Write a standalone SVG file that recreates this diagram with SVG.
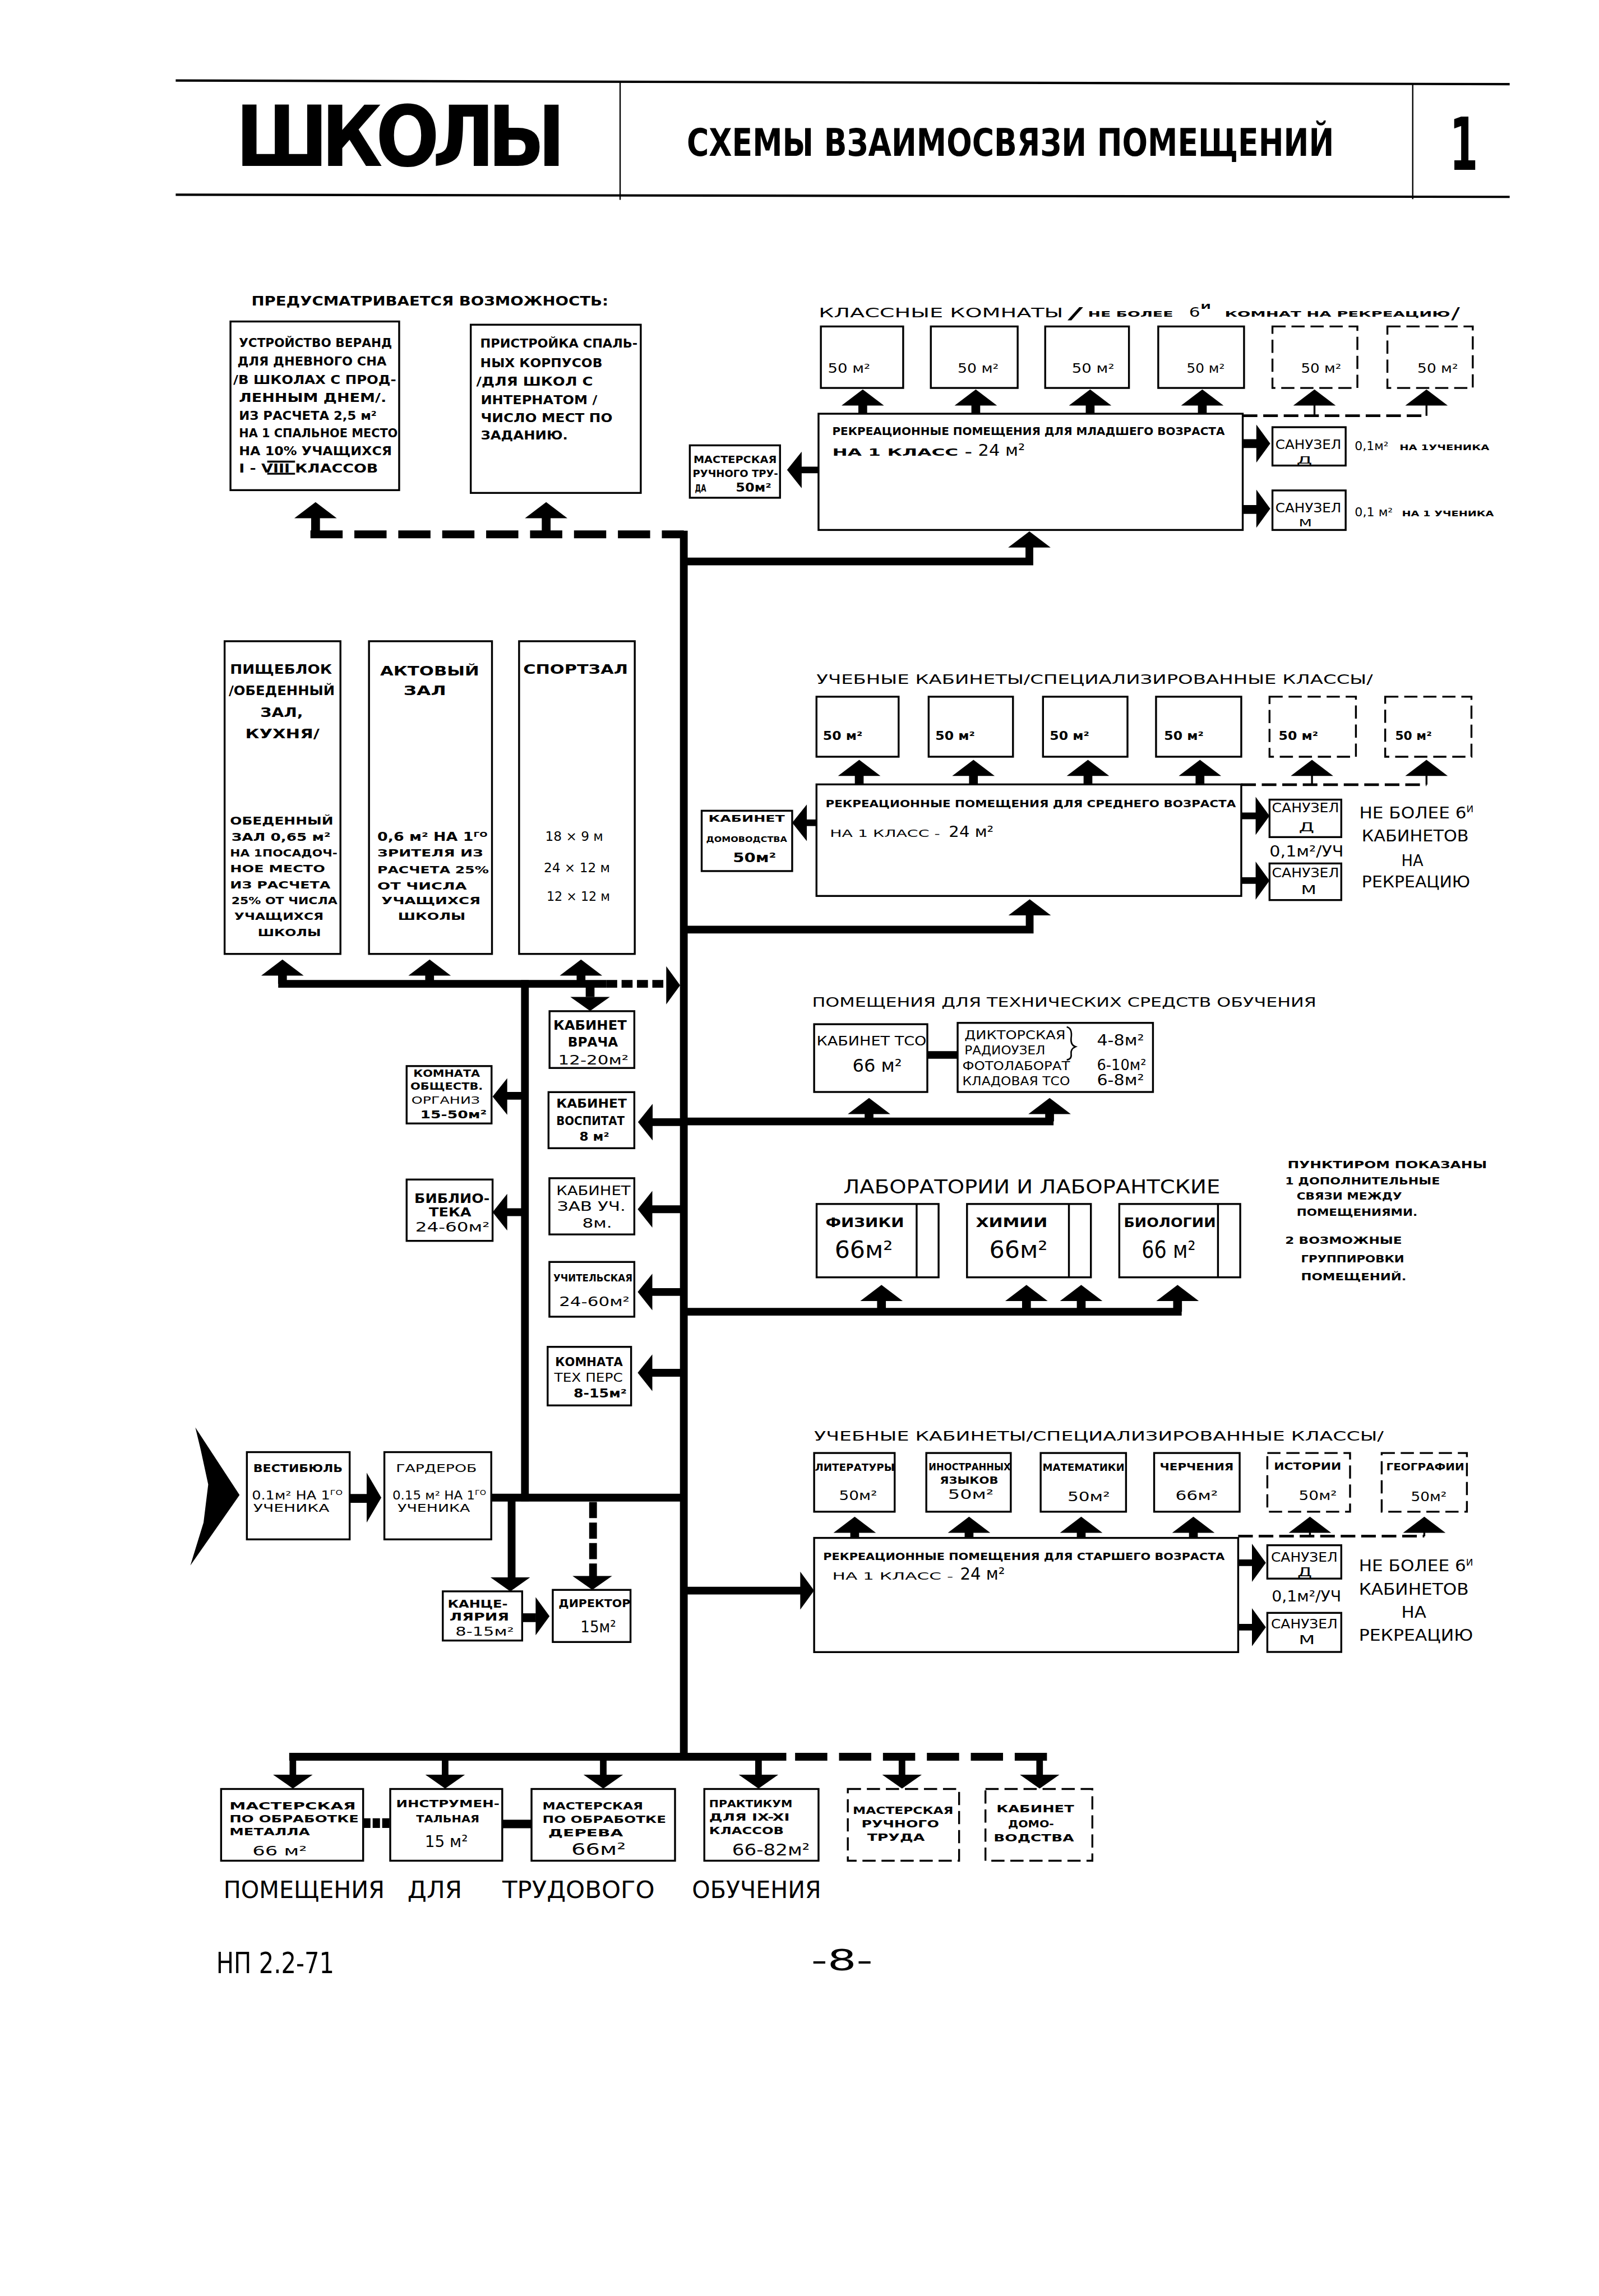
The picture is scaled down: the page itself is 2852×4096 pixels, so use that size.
<svg xmlns="http://www.w3.org/2000/svg" width="2852" height="4096" viewBox="0 0 2852 4096">
<defs>
<style>
.bx{fill:#fff;stroke:#000;stroke-width:1.3}
.bd{fill:#fff;stroke:#000;stroke-width:1.3;stroke-dasharray:9 4}
.ln{fill:none;stroke:#000;stroke-width:5.3}
.st{fill:none;stroke:#000;stroke-width:6}
.sm{fill:none;stroke:#000;stroke-width:4.5}
.th{fill:none;stroke:#000;stroke-width:1.3}
.dl{fill:none;stroke:#000;stroke-width:1.8;stroke-dasharray:10 4}
.hl{fill:none;stroke:#000;stroke-width:1.6}
text{font-family:"DejaVu Sans Condensed","DejaVu Sans","Liberation Sans",sans-serif;font-weight:bold;fill:#000}
.r{font-weight:normal}
</style>
<path id="au" d="M0,0L14.5,11L-14.5,11Z"/>
<path id="ad" d="M0,0L13.5,-9.5L-13.5,-9.5Z"/>
<path id="al" d="M0,0L10,-12.5L10,12.5Z"/>
<path id="ar" d="M0,0L-9.5,-13L-9.5,13Z"/>
<path id="ar2" d="M0,0L-10,-17L-10,17Z"/>
</defs>
<rect width="2852" height="4096" fill="#fff"/>
<g transform="scale(2.6117)">

<g id="header">
<path class="hl" d="M120,55L1031,57.5M120,133L1031,134.5"/>
<path d="M423.5,56V136.5M964.8,57V136" stroke="#000" stroke-width="0.9" fill="none"/>
<text x="160.8" y="113.5" font-size="57" textLength="225.4" lengthAdjust="spacing">ШКОЛЫ</text>
<text x="469" y="106.3" font-size="26" textLength="442" lengthAdjust="spacingAndGlyphs">СХЕМЫ ВЗАИМОСВЯЗИ ПОМЕЩЕНИЙ</text>
<text x="990" y="116" font-size="50" textLength="19.4" lengthAdjust="spacingAndGlyphs">1</text>
</g>

<g id="connectors">
<path class="st" d="M215.5,353V365M373,353V365"/>
<use href="#au" x="215.5" y="343"/><use href="#au" x="373" y="343"/>
<path class="ln" d="M212,365H467" stroke-dasharray="22 8"/>
<path class="ln" d="M467,362.5V1202.5"/>

<path class="st" d="M589.2,276V283M666.4,276V283M744.5,276V283M821.1,276V283"/>
<path class="th" d="M897.7,276V284M974.2,276V284"/>
<path class="dl" d="M848.7,284H974.2"/>
<use href="#au" x="589.2" y="266"/><use href="#au" x="666.4" y="266"/><use href="#au" x="744.5" y="266"/><use href="#au" x="821.1" y="266"/><use href="#au" x="897.7" y="266"/><use href="#au" x="974.2" y="266"/>
<path class="st" d="M848.7,303H859M848.7,348H859"/>
<use href="#ar" x="867.5" y="303"/><use href="#ar" x="867.5" y="347.5"/>
<path class="sm" d="M559,321H546"/><use href="#al" x="537.5" y="321"/>
<path class="ln" d="M703,372V383.5H464.5"/><use href="#au" x="703" y="363"/>

<path class="st" d="M586.8,529V536M664.8,529V536M743,529V536M819.5,529V536"/>
<path class="th" d="M896,529V536M974.2,529V536"/>
<path class="dl" d="M847.7,536H974.2"/>
<use href="#au" x="586.8" y="519"/><use href="#au" x="664.8" y="519"/><use href="#au" x="743" y="519"/><use href="#au" x="819.5" y="519"/><use href="#au" x="896" y="519"/><use href="#au" x="974.2" y="519"/>
<path class="sm" d="M847.7,557.3H858M847.7,601.5H858"/>
<use href="#ar" x="867" y="557.3"/><use href="#ar" x="867" y="601.5"/>
<path class="sm" d="M557.6,562H547"/><use href="#al" x="541" y="562"/>
<path class="ln" d="M703.2,623V635H464.5"/><use href="#au" x="703.2" y="614.3"/>

<path class="st" d="M192.9,665V672M293.4,665V672M396.8,665V672"/>
<use href="#au" x="192.9" y="655.4"/><use href="#au" x="293.4" y="655.4"/><use href="#au" x="396.8" y="655.4"/>
<path class="ln" d="M190,672H414"/>
<path class="ln" d="M414,672H456" stroke-dasharray="7.5 3"/>
<use href="#ar" x="464.5" y="673"/>
<path class="ln" d="M358.5,669.5V1025.5"/>
<path class="st" d="M403,672V681"/><use href="#ad" x="403" y="690.5"/>

<path class="ln" d="M358.5,748.5H345M358.5,828H346"/>
<use href="#al" x="336.4" y="749"/><use href="#al" x="336.4" y="828"/>
<path class="ln" d="M467,766.5H445M467,826H445M467,882.5H445M467,937.7H445"/>
<use href="#al" x="435.7" y="766.5"/><use href="#al" x="435.5" y="826"/><use href="#al" x="435.5" y="882.5"/><use href="#al" x="435.5" y="937.7"/>

<path class="ln" d="M467,766H719.5"/>
<path class="st" d="M593.5,759V766M716.8,759V766"/>
<use href="#au" x="593.5" y="750"/><use href="#au" x="716.8" y="750"/>
<rect x="633.3" y="718" width="20.7" height="5.2" fill="#000"/>

<path class="ln" d="M467,896H807"/>
<path class="st" d="M602,887V896M701,887V896M738.4,887V896M804.2,887V896"/>
<use href="#au" x="602" y="877.7"/><use href="#au" x="701" y="877.7"/><use href="#au" x="738.4" y="877.7"/><use href="#au" x="804.2" y="877.7"/>

<path class="st" d="M583.7,1045V1050.5M661.8,1045V1050.5M738.4,1045V1050.5M815,1045V1050.5"/>
<path class="th" d="M894.6,1045V1049.3M972.7,1045V1049.3"/>
<path class="dl" d="M845.6,1049.3H972.7"/>
<use href="#au" x="583.7" y="1036"/><use href="#au" x="661.8" y="1036"/><use href="#au" x="738.4" y="1036"/><use href="#au" x="815" y="1036"/><use href="#au" x="894.6" y="1036"/><use href="#au" x="972.7" y="1036"/>
<path class="sm" d="M845.6,1067.5H855M845.6,1111.5H855"/>
<use href="#ar" x="864.5" y="1067.5"/><use href="#ar" x="864.5" y="1111.5"/>
<path class="ln" d="M467,1086.5H547"/><use href="#ar" x="556" y="1086.5"/>

<polygon points="133.4,975 163.6,1021.2 130,1069.3 139,1040 142.2,1014 137,990" fill="#000"/>
<path class="st" d="M238.8,1023.5H251"/><use href="#ar2" x="260.4" y="1023"/>
<path class="ln" d="M335.5,1023H467"/>
<path class="ln" d="M349.4,1023V1078"/><use href="#ad" x="348.5" y="1087"/>
<path class="ln" d="M405,1026V1077" stroke-dasharray="11 3"/><use href="#ad" x="404.5" y="1086"/>
<path class="st" d="M356.6,1105H366"/><use href="#ar" x="375.3" y="1104"/>

<path class="ln" d="M197.5,1200H537"/>
<path class="ln" d="M543,1200H715" stroke-dasharray="22 8"/>
<path class="sm" d="M200,1200V1213M304,1200V1213M412,1200V1213M518,1200V1213M616,1200V1213M710,1200V1213"/>
<use href="#ad" x="200" y="1221.7"/><use href="#ad" x="304" y="1221.7"/><use href="#ad" x="412" y="1221.7"/><use href="#ad" x="518" y="1221.7"/><use href="#ad" x="616" y="1221.7"/><use href="#ad" x="710" y="1221.7"/>
<path d="M248,1245.3H266.5" stroke="#000" stroke-width="6.6" stroke-dasharray="5 1.5" fill="none"/>
<rect x="343" y="1243" width="20" height="5.8" fill="#000"/>
</g>

<text x="171.7" y="208.6" font-size="8.5" textLength="243.8" lengthAdjust="spacingAndGlyphs">ПРЕДУСМАТРИВАЕТСЯ ВОЗМОЖНОСТЬ:</text>

<g id="veranda">
<rect class="bx" x="157.4" y="219.6" width="115.2" height="115.2"/>
<text x="163.2" y="237" font-size="8.2" textLength="104.5" lengthAdjust="spacingAndGlyphs">УСТРОЙСТВО ВЕРАНД</text>
<text x="162.2" y="249.7" font-size="8.2" textLength="101.7" lengthAdjust="spacingAndGlyphs">ДЛЯ ДНЕВНОГО СНА</text>
<text x="159.3" y="262.1" font-size="8.2" textLength="111.3" lengthAdjust="spacingAndGlyphs">/В ШКОЛАХ С ПРОД-</text>
<text x="163.2" y="274.5" font-size="8.2" textLength="100.7" lengthAdjust="spacingAndGlyphs">ЛЕННЫМ ДНЕМ/.</text>
<text x="163.2" y="286.6" font-size="8.2" textLength="94" lengthAdjust="spacingAndGlyphs">ИЗ РАСЧЕТА 2,5 м²</text>
<text x="163.2" y="298.8" font-size="8.2" textLength="108.4" lengthAdjust="spacingAndGlyphs">НА 1 СПАЛЬНОЕ МЕСТО</text>
<text x="163.2" y="310.9" font-size="8.2" textLength="104.5" lengthAdjust="spacingAndGlyphs">НА 10% УЧАЩИХСЯ</text>
<text x="163.2" y="322.6" font-size="8.2" textLength="95" lengthAdjust="spacingAndGlyphs">I - VIII КЛАССОВ</text>
<path class="th" d="M182.5,315.3H201.5M182.5,323.6H201.5" stroke-width="0.8"/>
</g>

<g id="internat">
<rect class="bx" x="321.5" y="221.8" width="116.1" height="114.9"/>
<text x="328" y="237.5" font-size="8.2" textLength="107.4" lengthAdjust="spacingAndGlyphs">ПРИСТРОЙКА СПАЛЬ-</text>
<text x="328" y="250.7" font-size="8.2" textLength="83.4" lengthAdjust="spacingAndGlyphs">НЫХ КОРПУСОВ</text>
<text x="325.3" y="263.3" font-size="8.2" textLength="79.6" lengthAdjust="spacingAndGlyphs">/ДЛЯ ШКОЛ С</text>
<text x="328.3" y="276" font-size="8.2" textLength="79.6" lengthAdjust="spacingAndGlyphs">ИНТЕРНАТОМ /</text>
<text x="328.3" y="288.2" font-size="8.2" textLength="90" lengthAdjust="spacingAndGlyphs">ЧИСЛО МЕСТ ПО</text>
<text x="328.3" y="300.3" font-size="8.2" textLength="59.5" lengthAdjust="spacingAndGlyphs">ЗАДАНИЮ.</text>
</g>

<g id="classrooms">
<text class="r" x="559.1" y="216.8" font-size="8.8" textLength="167" lengthAdjust="spacingAndGlyphs">КЛАССНЫЕ КОМНАТЫ</text>
<text class="r" x="729" y="218" font-size="11" textLength="10.7" lengthAdjust="spacingAndGlyphs">/</text>
<text x="743" y="216.5" font-size="5.2" textLength="58.2" lengthAdjust="spacingAndGlyphs">НЕ БОЛЕЕ</text>
<text class="r" x="812" y="216.5" font-size="9" textLength="7.6" lengthAdjust="spacingAndGlyphs">6</text>
<text x="820" y="211" font-size="5" textLength="7" lengthAdjust="spacingAndGlyphs">И</text>
<text x="836.4" y="216.5" font-size="5.2" textLength="154" lengthAdjust="spacingAndGlyphs">КОМНАТ НА  РЕКРЕАЦИЮ</text>
<text class="r" x="991" y="218" font-size="11" textLength="6" lengthAdjust="spacingAndGlyphs">/</text>
<rect class="bx" x="560.6" y="223" width="56.2" height="42"/>
<rect class="bx" x="635.7" y="223" width="59.3" height="42"/>
<rect class="bx" x="713.8" y="223" width="57.2" height="42"/>
<rect class="bx" x="791" y="223" width="58.6" height="42"/>
<rect class="bd" x="869" y="223" width="58" height="42"/>
<rect class="bd" x="947.5" y="223" width="58.3" height="42"/>
<text class="r" x="565.3" y="254.5" font-size="8.5" textLength="29" lengthAdjust="spacingAndGlyphs">50 м²</text>
<text class="r" x="654" y="254.5" font-size="8.5" textLength="28" lengthAdjust="spacingAndGlyphs">50 м²</text>
<text class="r" x="732" y="254.5" font-size="8.5" textLength="29" lengthAdjust="spacingAndGlyphs">50 м²</text>
<text class="r" x="810.4" y="254.5" font-size="8.5" textLength="26" lengthAdjust="spacingAndGlyphs">50 м²</text>
<text class="r" x="888.5" y="254.5" font-size="8.5" textLength="27.5" lengthAdjust="spacingAndGlyphs">50 м²</text>
<text class="r" x="968" y="254.5" font-size="8.5" textLength="27.7" lengthAdjust="spacingAndGlyphs">50 м²</text>
</g>

<g id="rec-junior">
<rect class="bx" x="559" y="282.6" width="289.7" height="79.4"/>
<text x="568.4" y="297.2" font-size="7.5" textLength="268" lengthAdjust="spacingAndGlyphs">РЕКРЕАЦИОННЫЕ ПОМЕЩЕНИЯ ДЛЯ МЛАДШЕГО ВОЗРАСТА</text>
<text x="568.4" y="311.3" font-size="6.5" textLength="95.6" lengthAdjust="spacingAndGlyphs">НА 1 КЛАСС -</text>
<text class="r" x="668" y="311.3" font-size="11" textLength="32" lengthAdjust="spacingAndGlyphs">24 м²</text>
</g>
<g id="wc-d-1">
<rect class="bx" x="869" y="291.8" width="50" height="26.2"/>
<text class="r" x="871" y="306.7" font-size="9" textLength="45" lengthAdjust="spacingAndGlyphs">САНУЗЕЛ</text>
<text class="r" x="885.4" y="316.6" font-size="7" textLength="10.7" lengthAdjust="spacingAndGlyphs">Д</text>
<text class="r" x="925.2" y="307.3" font-size="8" textLength="23" lengthAdjust="spacingAndGlyphs">0,1м²</text>
<text x="955.8" y="307.3" font-size="5.3" textLength="61.3" lengthAdjust="spacingAndGlyphs">НА 1УЧЕНИКА</text>
</g>
<g id="wc-m-1">
<rect class="bx" x="869" y="335" width="50" height="27"/>
<text class="r" x="871" y="350" font-size="9" textLength="45" lengthAdjust="spacingAndGlyphs">САНУЗЕЛ</text>
<text class="r" x="887" y="359.6" font-size="7" textLength="9" lengthAdjust="spacingAndGlyphs">М</text>
<text class="r" x="925.2" y="352.8" font-size="8" textLength="26" lengthAdjust="spacingAndGlyphs">0,1 м²</text>
<text x="957.4" y="352.8" font-size="5.3" textLength="62.8" lengthAdjust="spacingAndGlyphs">НА 1 УЧЕНИКА</text>
</g>
<g id="workshop-hand">
<rect class="bx" x="471.1" y="304.2" width="61.6" height="35.8"/>
<text x="473.6" y="316.2" font-size="6.5" textLength="56.8" lengthAdjust="spacingAndGlyphs">МАСТЕРСКАЯ</text>
<text x="473.1" y="326" font-size="6.5" textLength="58.3" lengthAdjust="spacingAndGlyphs">РУЧНОГО ТРУ-</text>
<text x="474.6" y="335.7" font-size="6.5" textLength="7.7" lengthAdjust="spacingAndGlyphs">ДА</text>
<text x="502.5" y="335.7" font-size="8" textLength="24.3" lengthAdjust="spacingAndGlyphs">50м²</text>
</g>

<g id="cabinets-middle">
<text class="r" x="557.6" y="467.2" font-size="9" textLength="380" lengthAdjust="spacingAndGlyphs">УЧЕБНЫЕ КАБИНЕТЫ/СПЕЦИАЛИЗИРОВАННЫЕ КЛАССЫ/</text>
<rect class="bx" x="557.6" y="475.9" width="56.1" height="41"/>
<rect class="bx" x="634.2" y="475.9" width="57.6" height="41"/>
<rect class="bx" x="712.3" y="475.9" width="57.7" height="41"/>
<rect class="bx" x="789.5" y="475.9" width="58.2" height="41"/>
<rect class="bd" x="867" y="475.9" width="59" height="41"/>
<rect class="bd" x="946" y="475.9" width="58.9" height="41"/>
<text x="562" y="505.5" font-size="8" textLength="27" lengthAdjust="spacingAndGlyphs">50 м²</text>
<text x="638.8" y="505.5" font-size="8" textLength="27" lengthAdjust="spacingAndGlyphs">50 м²</text>
<text x="716.9" y="505.5" font-size="8" textLength="27" lengthAdjust="spacingAndGlyphs">50 м²</text>
<text x="795" y="505.5" font-size="8" textLength="27" lengthAdjust="spacingAndGlyphs">50 м²</text>
<text x="873.2" y="505.5" font-size="8" textLength="27" lengthAdjust="spacingAndGlyphs">50 м²</text>
<text x="952.8" y="505.5" font-size="8" textLength="25" lengthAdjust="spacingAndGlyphs">50 м²</text>
</g>
<g id="rec-middle">
<rect class="bx" x="557.6" y="535.8" width="290.1" height="76.2"/>
<text x="563.8" y="551.5" font-size="6.8" textLength="280.2" lengthAdjust="spacingAndGlyphs">РЕКРЕАЦИОННЫЕ ПОМЕЩЕНИЯ ДЛЯ СРЕДНЕГО ВОЗРАСТА</text>
<text class="r" x="566.8" y="571.8" font-size="6.8" textLength="75.2" lengthAdjust="spacingAndGlyphs">НА 1 КЛАСС -</text>
<text class="r" x="648" y="571.8" font-size="10" textLength="30.6" lengthAdjust="spacingAndGlyphs">24 м²</text>
</g>
<g id="wc-d-2">
<rect class="bx" x="867" y="546.2" width="49" height="25.6"/>
<text class="r" x="868.6" y="555" font-size="9" textLength="45.9" lengthAdjust="spacingAndGlyphs">САНУЗЕЛ</text>
<text class="r" x="887" y="567.7" font-size="8" textLength="10.6" lengthAdjust="spacingAndGlyphs">Д</text>
<text class="r" x="867" y="585.2" font-size="10" textLength="50.6" lengthAdjust="spacingAndGlyphs">0,1м²/УЧ</text>
</g>
<g id="wc-m-2">
<rect class="bx" x="867" y="589.8" width="49" height="25"/>
<text class="r" x="868.6" y="599.1" font-size="9" textLength="45.9" lengthAdjust="spacingAndGlyphs">САНУЗЕЛ</text>
<text class="r" x="888.5" y="610.8" font-size="8" textLength="10.5" lengthAdjust="spacingAndGlyphs">М</text>
</g>
<g id="note-middle">
<text class="r" x="928.3" y="559" font-size="11" textLength="78" lengthAdjust="spacingAndGlyphs">НЕ БОЛЕЕ 6<tspan dy="-4" font-size="6">И</tspan></text>
<text class="r" x="930" y="574.7" font-size="11" textLength="73" lengthAdjust="spacingAndGlyphs">КАБИНЕТОВ</text>
<text class="r" x="957" y="591.6" font-size="11" textLength="15" lengthAdjust="spacingAndGlyphs">НА</text>
<text class="r" x="930" y="606.1" font-size="11" textLength="74" lengthAdjust="spacingAndGlyphs">РЕКРЕАЦИЮ</text>
</g>
<g id="cab-domovodstva">
<rect class="bx" x="479.2" y="553.8" width="61.8" height="41.2"/>
<text x="483.8" y="561.5" font-size="6" textLength="52.2" lengthAdjust="spacingAndGlyphs">КАБИНЕТ</text>
<text x="482.3" y="575" font-size="5.5" textLength="55.2" lengthAdjust="spacingAndGlyphs">ДОМОВОДСТВА</text>
<text x="500.5" y="589" font-size="9" textLength="29.5" lengthAdjust="spacingAndGlyphs">50м²</text>
</g>

<g id="pishcheblok">
<rect class="bx" x="153.4" y="438" width="79.1" height="213.6"/>
<text x="157.1" y="460.3" font-size="9" textLength="69.6" lengthAdjust="spacingAndGlyphs">ПИЩЕБЛОК</text>
<text x="156.2" y="474.8" font-size="9" textLength="72.4" lengthAdjust="spacingAndGlyphs">/ОБЕДЕННЫЙ</text>
<text x="177.8" y="489.9" font-size="9" textLength="29.2" lengthAdjust="spacingAndGlyphs">ЗАЛ,</text>
<text x="167.5" y="504.2" font-size="9" textLength="50.7" lengthAdjust="spacingAndGlyphs">КУХНЯ/</text>
<text x="157.1" y="563.2" font-size="7.2" textLength="70.5" lengthAdjust="spacingAndGlyphs">ОБЕДЕННЫЙ</text>
<text x="158" y="574.5" font-size="7.5" textLength="67.7" lengthAdjust="spacingAndGlyphs">ЗАЛ 0,65 м²</text>
<text x="157.1" y="585.1" font-size="7" textLength="73.3" lengthAdjust="spacingAndGlyphs">НА 1ПОСАДОЧ-</text>
<text x="157.1" y="595.7" font-size="7" textLength="64.9" lengthAdjust="spacingAndGlyphs">НОЕ МЕСТО</text>
<text x="157.1" y="607" font-size="7" textLength="68.6" lengthAdjust="spacingAndGlyphs">ИЗ РАСЧЕТА</text>
<text x="158" y="617.6" font-size="7" textLength="72.4" lengthAdjust="spacingAndGlyphs">25% ОТ ЧИСЛА</text>
<text x="160" y="628.2" font-size="7" textLength="61" lengthAdjust="spacingAndGlyphs">УЧАЩИХСЯ</text>
<text x="176" y="639.5" font-size="7" textLength="43.2" lengthAdjust="spacingAndGlyphs">ШКОЛЫ</text>
</g>
<g id="aktovyi">
<rect class="bx" x="252" y="438" width="84" height="213.6"/>
<text x="259.6" y="461.2" font-size="9" textLength="67.7" lengthAdjust="spacingAndGlyphs">АКТОВЫЙ</text>
<text x="275.6" y="474.8" font-size="9" textLength="29.1" lengthAdjust="spacingAndGlyphs">ЗАЛ</text>
<text x="257.7" y="574.5" font-size="8" textLength="75.2" lengthAdjust="spacingAndGlyphs">0,6 м² НА 1<tspan dy="-3" font-size="5">ГО</tspan></text>
<text x="257.7" y="585.1" font-size="7" textLength="72.3" lengthAdjust="spacingAndGlyphs">ЗРИТЕЛЯ ИЗ</text>
<text x="257.7" y="596.4" font-size="7" textLength="76.1" lengthAdjust="spacingAndGlyphs">РАСЧЕТА 25%</text>
<text x="257.7" y="607.8" font-size="7" textLength="61.1" lengthAdjust="spacingAndGlyphs">ОТ ЧИСЛА</text>
<text x="260.5" y="617.6" font-size="7" textLength="67.7" lengthAdjust="spacingAndGlyphs">УЧАЩИХСЯ</text>
<text x="271.8" y="628.2" font-size="7" textLength="46.1" lengthAdjust="spacingAndGlyphs">ШКОЛЫ</text>
</g>
<g id="sportzal">
<rect class="bx" x="354.5" y="438" width="79" height="213.6"/>
<text x="357.3" y="460.3" font-size="9" textLength="71.5" lengthAdjust="spacingAndGlyphs">СПОРТЗАЛ</text>
<text class="r" x="372.4" y="574.5" font-size="8.5" textLength="39.5" lengthAdjust="spacingAndGlyphs">18 × 9 м</text>
<text class="r" x="371.4" y="595.7" font-size="8.5" textLength="45.2" lengthAdjust="spacingAndGlyphs">24 × 12 м</text>
<text class="r" x="373.3" y="615.3" font-size="8.5" textLength="43.3" lengthAdjust="spacingAndGlyphs">12 × 12 м</text>
</g>

<g id="obshchestv">
<rect class="bx" x="277.7" y="728.2" width="58" height="39.2"/>
<text x="282.3" y="735.6" font-size="6.8" textLength="45.5" lengthAdjust="spacingAndGlyphs">КОМНАТА</text>
<text x="280.3" y="744.4" font-size="6.8" textLength="49.5" lengthAdjust="spacingAndGlyphs">ОБЩЕСТВ.</text>
<text class="r" x="281" y="754" font-size="6.8" textLength="46.8" lengthAdjust="spacingAndGlyphs">ОРГАНИЗ</text>
<text x="287" y="763.8" font-size="7.5" textLength="45.4" lengthAdjust="spacingAndGlyphs">15-50м²</text>
</g>
<g id="biblioteka">
<rect class="bx" x="277.7" y="805.7" width="58.7" height="41.9"/>
<text x="283" y="821.8" font-size="9" textLength="51.4" lengthAdjust="spacingAndGlyphs">БИБЛИО-</text>
<text x="292.9" y="830.7" font-size="8" textLength="29" lengthAdjust="spacingAndGlyphs">ТЕКА</text>
<text class="r" x="283.6" y="841.4" font-size="9" textLength="50.8" lengthAdjust="spacingAndGlyphs">24-60м²</text>
</g>
<g id="vrach">
<rect class="bx" x="375.3" y="690.7" width="57.9" height="38.8"/>
<text x="377.9" y="703.2" font-size="8.5" textLength="50.1" lengthAdjust="spacingAndGlyphs">КАБИНЕТ</text>
<text x="387.8" y="714.8" font-size="8.5" textLength="34.2" lengthAdjust="spacingAndGlyphs">ВРАЧА</text>
<text class="r" x="381.2" y="727.2" font-size="9" textLength="48.1" lengthAdjust="spacingAndGlyphs">12-20м²</text>
</g>
<g id="vospitat">
<rect class="bx" x="374.6" y="746" width="58.6" height="38.3"/>
<text x="379.9" y="756.7" font-size="8" textLength="48.1" lengthAdjust="spacingAndGlyphs">КАБИНЕТ</text>
<text x="379.9" y="768.3" font-size="8" textLength="46.7" lengthAdjust="spacingAndGlyphs">ВОСПИТАТ</text>
<text x="395.7" y="779" font-size="8" textLength="20.4" lengthAdjust="spacingAndGlyphs">8 м²</text>
</g>
<g id="zavuch">
<rect class="bx" x="375.2" y="804.8" width="58" height="38.4"/>
<text class="r" x="379.9" y="816.4" font-size="8.5" textLength="50.7" lengthAdjust="spacingAndGlyphs">КАБИНЕТ</text>
<text class="r" x="380.5" y="827.1" font-size="8.5" textLength="46.8" lengthAdjust="spacingAndGlyphs">ЗАВ УЧ.</text>
<text class="r" x="397.6" y="838.7" font-size="8.5" textLength="20.4" lengthAdjust="spacingAndGlyphs">8м.</text>
</g>
<g id="uchitelskaya">
<rect class="bx" x="375.2" y="862" width="58" height="37.4"/>
<text x="377.9" y="875.2" font-size="6.5" textLength="54" lengthAdjust="spacingAndGlyphs">УЧИТЕЛЬСКАЯ</text>
<text class="r" x="381.8" y="892.2" font-size="9" textLength="48.2" lengthAdjust="spacingAndGlyphs">24-60м²</text>
</g>
<g id="tekhpers">
<rect class="bx" x="374" y="920" width="57" height="40"/>
<text x="379.2" y="933.2" font-size="8" textLength="46.1" lengthAdjust="spacingAndGlyphs">КОМНАТА</text>
<text class="r" x="378.5" y="943.9" font-size="8" textLength="46.8" lengthAdjust="spacingAndGlyphs">ТЕХ ПЕРС</text>
<text x="391.7" y="954.6" font-size="8" textLength="36.3" lengthAdjust="spacingAndGlyphs">8-15м²</text>
</g>

<g id="tso">
<text class="r" x="554.6" y="687.7" font-size="9" textLength="344.4" lengthAdjust="spacingAndGlyphs">ПОМЕЩЕНИЯ ДЛЯ ТЕХНИЧЕСКИХ СРЕДСТВ ОБУЧЕНИЯ</text>
<rect class="bx" x="556" y="699.6" width="77.3" height="46.3"/>
<text class="r" x="557.7" y="714.2" font-size="8.5" textLength="75" lengthAdjust="spacingAndGlyphs">КАБИНЕТ ТСО</text>
<text class="r" x="582.2" y="731.9" font-size="12" textLength="33.7" lengthAdjust="spacingAndGlyphs">66 м²</text>
</g>
<g id="tso-rooms">
<rect class="bx" x="654" y="698.7" width="133.4" height="47.2"/>
<text class="r" x="658.7" y="709.8" font-size="8" textLength="69" lengthAdjust="spacingAndGlyphs">ДИКТОРСКАЯ</text>
<text class="r" x="658.7" y="720.2" font-size="8" textLength="55.2" lengthAdjust="spacingAndGlyphs">РАДИОУЗЕЛ</text>
<path d="M728.5,701.5Q732.5,702.5 731.5,709Q731,714 734.5,715Q731,716.5 731.5,720Q732,723.5 728.5,724" fill="none" stroke="#000" stroke-width="1"/>
<text class="r" x="657.2" y="731.1" font-size="8" textLength="73.5" lengthAdjust="spacingAndGlyphs">ФОТОЛАБОРАТ</text>
<text class="r" x="657.2" y="741.4" font-size="8" textLength="73.5" lengthAdjust="spacingAndGlyphs">КЛАДОВАЯ ТСО</text>
<text class="r" x="749.1" y="714.2" font-size="10" textLength="32.2" lengthAdjust="spacingAndGlyphs">4-8м²</text>
<text class="r" x="749.1" y="731.1" font-size="10" textLength="33.7" lengthAdjust="spacingAndGlyphs">6-10м²</text>
<text class="r" x="749.1" y="741.4" font-size="10" textLength="32.2" lengthAdjust="spacingAndGlyphs">6-8м²</text>
</g>

<text class="r" x="576" y="815" font-size="13" textLength="257.3" lengthAdjust="spacingAndGlyphs">ЛАБОРАТОРИИ И ЛАБОРАНТСКИЕ</text>
<g id="lab-fiziki">
<rect class="bx" x="557.7" y="822.4" width="83.3" height="50.1"/>
<path class="th" d="M626,822.4V872.5"/>
<text x="563.8" y="838" font-size="8.5" textLength="53.6" lengthAdjust="spacingAndGlyphs">ФИЗИКИ</text>
<text class="r" x="570" y="859.3" font-size="16" textLength="39.7" lengthAdjust="spacingAndGlyphs">66м²</text>
</g>
<g id="lab-khimii">
<rect class="bx" x="660.4" y="822.4" width="84.6" height="50.1"/>
<path class="th" d="M730,822.4V872.5"/>
<text x="666.4" y="838" font-size="8.5" textLength="49" lengthAdjust="spacingAndGlyphs">ХИМИИ</text>
<text class="r" x="675.6" y="859.3" font-size="16" textLength="39.8" lengthAdjust="spacingAndGlyphs">66м²</text>
</g>
<g id="lab-biologii">
<rect class="bx" x="764.4" y="822.4" width="82.6" height="50.1"/>
<path class="th" d="M831.8,822.4V872.5"/>
<text x="767.5" y="838" font-size="8.5" textLength="62.8" lengthAdjust="spacingAndGlyphs">БИОЛОГИИ</text>
<text class="r" x="779.7" y="859.3" font-size="16" textLength="36.8" lengthAdjust="spacingAndGlyphs">66 м²</text>
</g>

<g id="legend">
<text x="879.3" y="798" font-size="7" textLength="136.2" lengthAdjust="spacingAndGlyphs">ПУНКТИРОМ ПОКАЗАНЫ</text>
<text x="877.7" y="809.2" font-size="7" textLength="105.7" lengthAdjust="spacingAndGlyphs">1 ДОПОЛНИТЕЛЬНЫЕ</text>
<text x="885.5" y="819.5" font-size="7" textLength="72" lengthAdjust="spacingAndGlyphs">СВЯЗИ МЕЖДУ</text>
<text x="885.5" y="830.6" font-size="7" textLength="82.5" lengthAdjust="spacingAndGlyphs">ПОМЕЩЕНИЯМИ.</text>
<text x="877.7" y="849.7" font-size="7" textLength="79.8" lengthAdjust="spacingAndGlyphs">2 ВОЗМОЖНЫЕ</text>
<text x="888.5" y="862.2" font-size="7" textLength="70.5" lengthAdjust="spacingAndGlyphs">ГРУППИРОВКИ</text>
<text x="888.5" y="874.7" font-size="7" textLength="72" lengthAdjust="spacingAndGlyphs">ПОМЕЩЕНИЙ.</text>
</g>

<g id="cabinets-senior">
<text class="r" x="556" y="984.2" font-size="9" textLength="389" lengthAdjust="spacingAndGlyphs">УЧЕБНЫЕ КАБИНЕТЫ/СПЕЦИАЛИЗИРОВАННЫЕ КЛАССЫ/</text>
<rect class="bx" x="556" y="992.5" width="55" height="40.1"/>
<rect class="bx" x="632.6" y="992.5" width="57.7" height="40.1"/>
<rect class="bx" x="710.7" y="992.5" width="58.3" height="40.1"/>
<rect class="bx" x="788.2" y="992.5" width="58.4" height="40.1"/>
<rect class="bd" x="865.5" y="992.5" width="56.5" height="40.1"/>
<rect class="bd" x="943.6" y="992.5" width="58.2" height="40.1"/>
<text x="556.5" y="1004.8" font-size="6.5" textLength="54.5" lengthAdjust="spacingAndGlyphs">ЛИТЕРАТУРЫ</text>
<text class="r" x="573" y="1024.8" font-size="9" textLength="26" lengthAdjust="spacingAndGlyphs">50м²</text>
<text x="634.2" y="1004.3" font-size="6.5" textLength="56" lengthAdjust="spacingAndGlyphs">ИНОСТРАННЫХ</text>
<text x="641.8" y="1013.7" font-size="6.5" textLength="40" lengthAdjust="spacingAndGlyphs">ЯЗЫКОВ</text>
<text class="r" x="647.4" y="1023.7" font-size="9" textLength="31.2" lengthAdjust="spacingAndGlyphs">50м²</text>
<text x="712" y="1004.8" font-size="6.5" textLength="56" lengthAdjust="spacingAndGlyphs">МАТЕМАТИКИ</text>
<text class="r" x="729" y="1025.3" font-size="9" textLength="29" lengthAdjust="spacingAndGlyphs">50м²</text>
<text x="792" y="1004.3" font-size="6.5" textLength="50.5" lengthAdjust="spacingAndGlyphs">ЧЕРЧЕНИЯ</text>
<text class="r" x="802.7" y="1024.8" font-size="9" textLength="29.1" lengthAdjust="spacingAndGlyphs">66м²</text>
<text x="870" y="1003.8" font-size="6.5" textLength="46" lengthAdjust="spacingAndGlyphs">ИСТОРИИ</text>
<text class="r" x="887" y="1024.6" font-size="9" textLength="26" lengthAdjust="spacingAndGlyphs">50м²</text>
<text x="946.7" y="1004.3" font-size="6.5" textLength="53.3" lengthAdjust="spacingAndGlyphs">ГЕОГРАФИИ</text>
<text class="r" x="963.6" y="1025.3" font-size="9" textLength="24.4" lengthAdjust="spacingAndGlyphs">50м²</text>
</g>
<g id="rec-senior">
<rect class="bx" x="556" y="1050.5" width="289.6" height="78"/>
<text x="562.2" y="1065.5" font-size="7" textLength="274.2" lengthAdjust="spacingAndGlyphs">РЕКРЕАЦИОННЫЕ ПОМЕЩЕНИЯ ДЛЯ СТАРШЕГО ВОЗРАСТА</text>
<text class="r" x="568.4" y="1078.8" font-size="6.8" textLength="82.6" lengthAdjust="spacingAndGlyphs">НА 1 КЛАСС -</text>
<text class="r" x="655.7" y="1078.8" font-size="11.5" textLength="30.6" lengthAdjust="spacingAndGlyphs">24 м²</text>
</g>
<g id="wc-d-3">
<rect class="bx" x="865.5" y="1055.5" width="50.5" height="22.8"/>
<text class="r" x="868" y="1066.6" font-size="8.5" textLength="45.5" lengthAdjust="spacingAndGlyphs">САНУЗЕЛ</text>
<text class="r" x="886" y="1076.6" font-size="8" textLength="10" lengthAdjust="spacingAndGlyphs">Д</text>
<text class="r" x="868.5" y="1093.9" font-size="10" textLength="47.5" lengthAdjust="spacingAndGlyphs">0,1м²/УЧ</text>
</g>
<g id="wc-m-3">
<rect class="bx" x="865.5" y="1101.7" width="50.5" height="26.7"/>
<text class="r" x="868" y="1112.3" font-size="8.5" textLength="45.5" lengthAdjust="spacingAndGlyphs">САНУЗЕЛ</text>
<text class="r" x="887" y="1122.9" font-size="8" textLength="11" lengthAdjust="spacingAndGlyphs">М</text>
</g>
<g id="note-senior">
<text class="r" x="928" y="1073.3" font-size="11" textLength="78" lengthAdjust="spacingAndGlyphs">НЕ БОЛЕЕ 6<tspan dy="-4" font-size="6">И</tspan></text>
<text class="r" x="928" y="1089.5" font-size="11" textLength="75" lengthAdjust="spacingAndGlyphs">КАБИНЕТОВ</text>
<text class="r" x="957" y="1105" font-size="11" textLength="17" lengthAdjust="spacingAndGlyphs">НА</text>
<text class="r" x="928" y="1120.6" font-size="11" textLength="78" lengthAdjust="spacingAndGlyphs">РЕКРЕАЦИЮ</text>
</g>

<g id="vestibul">
<rect class="bx" x="168.6" y="991.9" width="70.2" height="59.6"/>
<text x="173" y="1005.5" font-size="7.5" textLength="61" lengthAdjust="spacingAndGlyphs">ВЕСТИБЮЛЬ</text>
<text class="r" x="172" y="1024.3" font-size="8" textLength="62" lengthAdjust="spacingAndGlyphs">0.1м² НА 1<tspan dy="-3" font-size="5">ГО</tspan></text>
<text class="r" x="173" y="1032.7" font-size="7.5" textLength="52" lengthAdjust="spacingAndGlyphs">УЧЕНИКА</text>
</g>
<g id="garderob">
<rect class="bx" x="262.5" y="991.9" width="73" height="59.6"/>
<text class="r" x="270.4" y="1005.5" font-size="7.5" textLength="55.2" lengthAdjust="spacingAndGlyphs">ГАРДЕРОБ</text>
<text class="r" x="268" y="1024.3" font-size="8" textLength="64" lengthAdjust="spacingAndGlyphs">0.15 м² НА 1<tspan dy="-3" font-size="5">ГО</tspan></text>
<text class="r" x="271.5" y="1032.7" font-size="7.5" textLength="49.5" lengthAdjust="spacingAndGlyphs">УЧЕНИКА</text>
</g>
<g id="kancelyariya">
<rect class="bx" x="302.4" y="1087" width="54.2" height="33.6"/>
<text x="305.7" y="1098" font-size="7.5" textLength="41" lengthAdjust="spacingAndGlyphs">КАНЦЕ-</text>
<text x="307" y="1107" font-size="7.5" textLength="40.7" lengthAdjust="spacingAndGlyphs">ЛЯРИЯ</text>
<text class="r" x="311" y="1117.4" font-size="8" textLength="40" lengthAdjust="spacingAndGlyphs">8-15м²</text>
</g>
<g id="direktor">
<rect class="bx" x="377.5" y="1086" width="53.1" height="35.6"/>
<text x="381.5" y="1097.6" font-size="7.5" textLength="49" lengthAdjust="spacingAndGlyphs">ДИРЕКТОР</text>
<text class="r" x="396.4" y="1115" font-size="11" textLength="24.3" lengthAdjust="spacingAndGlyphs">15м²</text>
</g>

<g id="work-metal">
<rect class="bx" x="151" y="1222" width="97" height="49"/>
<text x="156.7" y="1236" font-size="6.5" textLength="86.3" lengthAdjust="spacingAndGlyphs">МАСТЕРСКАЯ</text>
<text x="156.7" y="1244.6" font-size="6.5" textLength="88.3" lengthAdjust="spacingAndGlyphs">ПО ОБРАБОТКЕ</text>
<text x="156.7" y="1253.7" font-size="6.5" textLength="54.9" lengthAdjust="spacingAndGlyphs">МЕТАЛЛА</text>
<text class="r" x="172.4" y="1267.4" font-size="9" textLength="37.2" lengthAdjust="spacingAndGlyphs">66 м²</text>
</g>
<g id="work-instr">
<rect class="bx" x="266.5" y="1222" width="76.5" height="49"/>
<text x="270.5" y="1234.5" font-size="6.5" textLength="70.6" lengthAdjust="spacingAndGlyphs">ИНСТРУМЕН-</text>
<text x="284.2" y="1244.6" font-size="6.5" textLength="43.2" lengthAdjust="spacingAndGlyphs">ТАЛЬНАЯ</text>
<text class="r" x="290.1" y="1261.8" font-size="11" textLength="29.4" lengthAdjust="spacingAndGlyphs">15 м²</text>
</g>
<g id="work-wood">
<rect class="bx" x="363" y="1222" width="98" height="49"/>
<text x="370.5" y="1236" font-size="6.5" textLength="68.7" lengthAdjust="spacingAndGlyphs">МАСТЕРСКАЯ</text>
<text x="370.5" y="1245.1" font-size="6.5" textLength="84.4" lengthAdjust="spacingAndGlyphs">ПО ОБРАБОТКЕ</text>
<text x="374.4" y="1254.2" font-size="6.5" textLength="51.1" lengthAdjust="spacingAndGlyphs">ДЕРЕВА</text>
<text class="r" x="390.2" y="1266.9" font-size="11" textLength="37.2" lengthAdjust="spacingAndGlyphs">66м²</text>
</g>
<g id="work-praktikum">
<rect class="bx" x="481" y="1222" width="78" height="49"/>
<text x="484.3" y="1234.5" font-size="6.5" textLength="56.9" lengthAdjust="spacingAndGlyphs">ПРАКТИКУМ</text>
<text x="484.3" y="1243.6" font-size="6.5" textLength="55" lengthAdjust="spacingAndGlyphs">ДЛЯ IX-XI</text>
<text x="484.3" y="1252.7" font-size="6.5" textLength="51" lengthAdjust="spacingAndGlyphs">КЛАССОВ</text>
<text class="r" x="500" y="1267.4" font-size="11" textLength="53" lengthAdjust="spacingAndGlyphs">66-82м²</text>
</g>
<g id="work-hand">
<rect class="bd" x="579" y="1222" width="76" height="49"/>
<text x="582.4" y="1239" font-size="6.5" textLength="68.7" lengthAdjust="spacingAndGlyphs">МАСТЕРСКАЯ</text>
<text x="588.3" y="1248.1" font-size="6.5" textLength="53" lengthAdjust="spacingAndGlyphs">РУЧНОГО</text>
<text x="592.2" y="1257.3" font-size="6.5" textLength="39.3" lengthAdjust="spacingAndGlyphs">ТРУДА</text>
</g>
<g id="work-domovodstvo">
<rect class="bd" x="673" y="1222" width="73" height="49"/>
<text x="680.5" y="1238" font-size="6.5" textLength="53" lengthAdjust="spacingAndGlyphs">КАБИНЕТ</text>
<text x="688.4" y="1248.1" font-size="6.5" textLength="31.4" lengthAdjust="spacingAndGlyphs">ДОМО-</text>
<text x="678.6" y="1257.8" font-size="6.5" textLength="54.9" lengthAdjust="spacingAndGlyphs">ВОДСТВА</text>
</g>

<g id="caption">
<text class="r" x="152.7" y="1296.3" font-size="16" textLength="109.9" lengthAdjust="spacingAndGlyphs">ПОМЕЩЕНИЯ</text>
<text class="r" x="278.3" y="1296.3" font-size="16" textLength="37.3" lengthAdjust="spacingAndGlyphs">ДЛЯ</text>
<text class="r" x="343.1" y="1296.3" font-size="16" textLength="104" lengthAdjust="spacingAndGlyphs">ТРУДОВОГО</text>
<text class="r" x="472.6" y="1296.3" font-size="16" textLength="88.2" lengthAdjust="spacingAndGlyphs">ОБУЧЕНИЯ</text>
</g>
<g id="footer">
<text class="r" x="147.7" y="1347.6" font-size="20" textLength="80.5" lengthAdjust="spacingAndGlyphs">НП 2.2-71</text>
<text class="r" x="554" y="1346" font-size="20" textLength="42" lengthAdjust="spacingAndGlyphs">-8-</text>
</g>
</g>
</svg>
